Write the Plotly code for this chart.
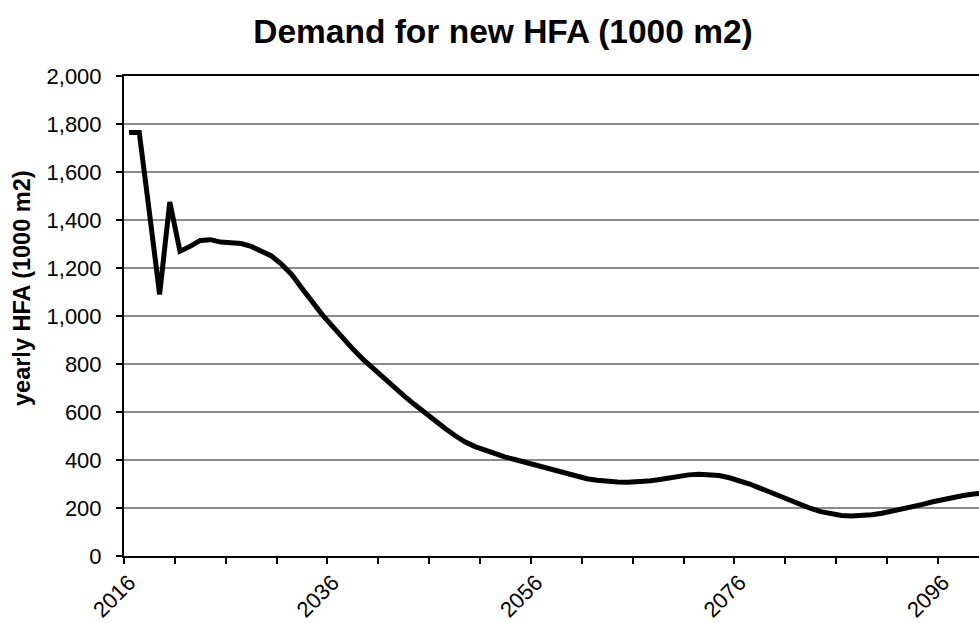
import plotly.graph_objects as go

years = list(range(2016, 2101))
hfa = [
    1765, 1765, 1430, 1090, 1475, 1270, 1290, 1315, 1318, 1308,
    1305, 1302, 1290, 1270, 1250, 1215, 1172, 1115, 1058, 1005,
    957, 908, 862, 819, 780, 742, 705, 668, 633, 598,
    565, 533, 503, 476, 456, 440, 425, 412, 401, 390,
    378, 366, 354, 342, 331, 322, 316, 311, 308, 307,
    308, 312, 318, 325, 333, 338, 341, 340, 335, 326,
    315, 300, 283, 265, 250, 233, 215, 198, 185, 175,
    169, 167, 168, 172, 178, 186, 195, 205, 215, 226,
    236, 245, 252, 258, 262,
]
label_years = [2016, 2036, 2056, 2076, 2096]
y_ticks = list(range(0, 2001, 200))

font_family = "Arial, Liberation Sans, sans-serif"

fig = go.Figure()
fig.add_trace(go.Scatter(
    x=years, y=hfa, mode="lines",
    line=dict(color="black", width=5),
    showlegend=False, hoverinfo="skip",
))

fig.update_layout(
    width=979, height=623,
    margin=dict(l=124, r=0, t=76, b=67),
    paper_bgcolor="white", plot_bgcolor="white",
    font=dict(family=font_family, color="black"),
    title=dict(
        text="<b>Demand for new HFA (1000 m2)</b>",
        x=503 / 979, xanchor="center", xref="container",
        y=1 - 31 / 623, yanchor="middle",
        font=dict(size=33.5, family=font_family, color="black"),
    ),
)

fig.update_xaxes(
    range=[years[0] - 0.5, years[0] - 0.5 + 855.5 / 10.18],
    tickmode="array", tickvals=label_years, ticktext=[str(v) for v in label_years],
    tickangle=-45, ticks="", showgrid=False, zeroline=False,
    showline=True, linecolor="black", linewidth=2, mirror=True,
    tickfont=dict(size=22, family=font_family, color="black"),
    ticklabelstandoff=3,
    automargin=False,
    minor=dict(
        tickmode="array", tickvals=[y - 0.5 for y in years[::5]],
        ticks="outside", ticklen=6, tickwidth=2, tickcolor="black", showgrid=False,
    ),
)

fig.update_yaxes(
    range=[0, 2000], tickmode="array", tickvals=y_ticks, tickformat=",",
    ticks="outside", ticklen=6, tickwidth=2, tickcolor="black",
    showgrid=True, gridcolor="#8c8c8c", gridwidth=2, zeroline=False,
    showline=True, linecolor="black", linewidth=2, automargin=False,
    tickfont=dict(size=22, family=font_family, color="black"),
    ticklabelstandoff=10,
)

fig.add_annotation(
    text="<b>yearly HFA (1000 m2)</b>",
    xref="paper", yref="paper",
    x=(22 - 124) / 855, y=(556 - 288) / 480,
    xanchor="center", yanchor="middle", textangle=-90, showarrow=False,
    font=dict(size=23.5, family=font_family, color="black"),
)

fig.write_html(
    "out.html",
    config={"displayModeBar": False, "staticPlot": True},
    post_script="document.body.style.margin='0';document.body.style.overflow='hidden';",
)
